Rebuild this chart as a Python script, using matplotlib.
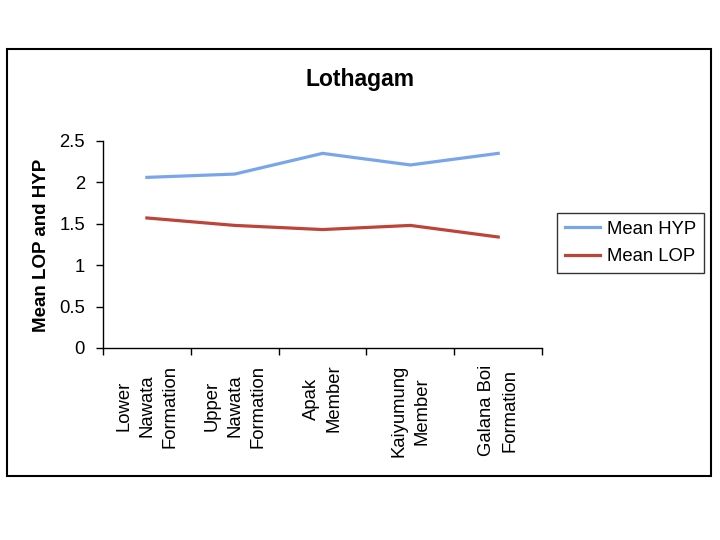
# Lothagam: mean LOP and HYP per stratigraphic unit
import numpy as np
import matplotlib.pyplot as plt
from matplotlib.patches import Rectangle

plt.rcParams['font.family'] = ['Liberation Sans', 'DejaVu Sans']

# Data
units = ['Lower\nNawata\nFormation', 'Upper\nNawata\nFormation', 'Apak\nMember',
         'Kaiyumung\nMember', 'Galana Boi\nFormation']
mean_hyp = [2.06, 2.10, 2.35, 2.21, 2.35]
mean_lop = [1.57, 1.48, 1.43, 1.48, 1.34]

hyp_color = '#79A6EA'
lop_color = '#BC4438'

fig = plt.figure(figsize=(7.2, 5.4), dpi=100)
ax = fig.add_axes([0.143, 0.3556, 0.610, 0.3834])

x = np.arange(len(units))
ax.plot(x, mean_hyp, color=hyp_color, lw=2.3, label='Mean HYP')
ax.plot(x, mean_lop, color=lop_color, lw=2.3, label='Mean LOP')

ax.set_xlim(-0.5, len(units) - 0.5)
ax.set_ylim(0, 2.5)
ax.set_yticks(np.arange(0, 2.51, 0.5))
ax.set_yticklabels(['0', '0.5', '1', '1.5', '2', '2.5'])

# boundary ticks between categories, labels at centres
ax.set_xticks(np.arange(-0.5, len(units), 1.0))
ax.set_xticklabels([])
ax.set_xticks(x, minor=True)
ax.set_xticklabels(units, minor=True, rotation=90, ha='center', va='top',
                   multialignment='center', fontsize=13.3, linespacing=1.45)
ax.tick_params(axis='x', which='minor', length=0, pad=12)
ax.tick_params(axis='x', which='major', length=5, width=1, direction='out')
ax.tick_params(axis='y', length=5, width=1, direction='out', labelsize=13.3, pad=8)

for side in ['top', 'right']:
    ax.spines[side].set_visible(False)
for side in ['left', 'bottom']:
    ax.spines[side].set_linewidth(1)

fig.text(0.5, 0.852, 'Lothagam', ha='center', va='center',
         fontsize=16.5, fontweight='bold')
fig.text(0.058, 0.546, 'Mean LOP and HYP', ha='center', va='center',
         rotation=90, fontsize=13.5, fontweight='bold')

leg = fig.legend(loc='center', bbox_to_anchor=(0.8757, 0.55), fontsize=13.3,
                 frameon=True, fancybox=False, edgecolor='black',
                 handlelength=1.9, borderpad=0.45, labelspacing=0.55,
                 handletextpad=0.35)
leg.get_frame().set_linewidth(1)

# outer chart border
fig.patches.append(Rectangle((0.0097, 0.1185), 0.978, 0.791, transform=fig.transFigure,
                             fill=False, edgecolor='black', lw=1.5))

fig.savefig('out.png', dpi=100)
